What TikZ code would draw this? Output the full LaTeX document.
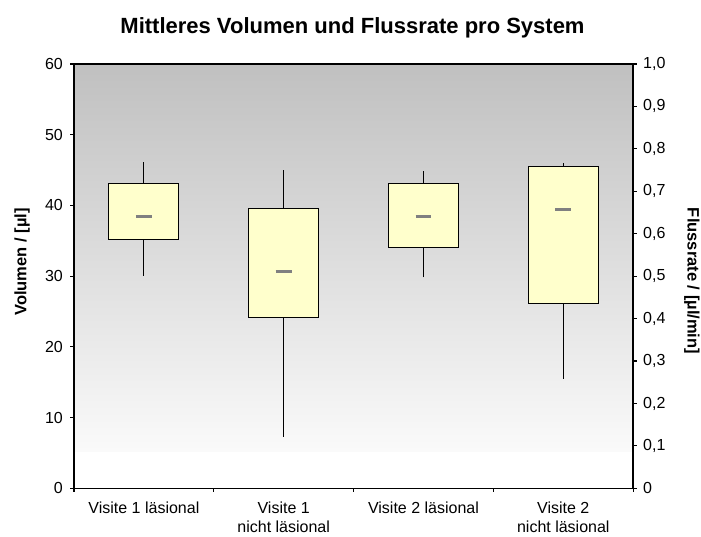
\documentclass[tikz,border=0pt]{standalone}
\usepackage{fontspec}
\setmainfont{Liberation Sans}

\definecolor{plottop}{RGB}{192,192,192}
\definecolor{plotbottom}{RGB}{250,250,250}
\definecolor{boxyellow}{RGB}{255,255,204}
\definecolor{mediangray}{RGB}{128,128,128}

\begin{document}
\begin{tikzpicture}[x=1pt, y=-1pt,
    ticklabel/.style={font=\fontsize{16}{19}\selectfont, inner sep=0pt},
    axistitle/.style={font=\fontsize{16.5}{19}\bfseries\selectfont, inner sep=0pt},
    catlabel/.style={font=\fontsize{16}{18.5}\selectfont, align=center, anchor=north, inner sep=0pt},
    boxbody/.style={draw=black, fill=boxyellow, line width=1pt},
    whisker/.style={line width=1pt},
    medianbar/.style={draw=mediangray, line width=3pt}]
    \useasboundingbox (0,0) rectangle (701,536);
    % plot area background
    \shade[top color=plottop, bottom color=plotbottom] (74,64) rectangle (633,451);
    % boxes, in data units
    \begin{scope}[shift={(74,488.3)}, x=139.8pt, y=7.0717pt]
        \foreach \i/\lo/\qa/\med/\qb/\hi in {0/30.06/35.25/38.5/43.13/46.18,
                                             1/7.3/24.18/30.63/39.6/45.0,
                                             2/29.84/34.08/38.5/43.13/44.87,
                                             3/15.46/26.1/39.45/45.48/46.04}
        {
            \draw[whisker] (\i+.5,\lo) -- (\i+.5,\hi);
            \draw[boxbody] (\i+.25,\qa) rectangle (\i+.75,\qb);
            \draw[medianbar] (\i+.443,\med) -- (\i+.557,\med);
        }
    \end{scope}
    % frame and ticks
    \draw[line width=1.2pt] (74,64) rectangle (633,488.3);
    \foreach \v [evaluate=\v as \yy using 488.3-7.0717*\v] in {0,10,...,60}
    {
        \draw[line width=1.2pt] (70,\yy) -- (74,\yy);
        \node[ticklabel, anchor=east] (yl\v) at (63,\yy) {\v};
    }
    \foreach \v/\t [evaluate=\v as \yy using 488.3-42.43*\v] in {0/0, 1/{0,1}, 2/{0,2}, 3/{0,3},
                                                                4/{0,4}, 5/{0,5}, 6/{0,6}, 7/{0,7},
                                                                8/{0,8}, 9/{0,9}, 10/{1,0}}
    {
        \draw[line width=1.2pt] (633,\yy) -- (637,\yy);
        \node[ticklabel, anchor=west] (yr\v) at (643,\yy) {\t};
    }
    \foreach \k [evaluate=\k as \xx using 74+139.8*\k] in {0,...,4}
        \draw[line width=1.2pt] (\xx,488.3) -- (\xx,492);
    % labels
    \node[catlabel] (c1) at (143.9,502) {Visite 1 läsional};
    \node[catlabel] (c2) at (283.7,502) {Visite 1\\nicht läsional};
    \node[catlabel] (c3) at (423.5,502) {Visite 2 läsional};
    \node[catlabel] (c4) at (563.3,502) {Visite 2\\nicht läsional};
    \node[font=\fontsize{22}{26}\bfseries\selectfont, anchor=base] (title) at (352.5,33)
        {Mittleres Volumen und Flussrate pro System};
    \node[axistitle, rotate=90] (ylab) at (22,262) {Volumen / [µl]};
    \node[axistitle, rotate=-90] (y2lab) at (692,281) {Flussrate / [µl/min]};
\end{tikzpicture}
\end{document}
